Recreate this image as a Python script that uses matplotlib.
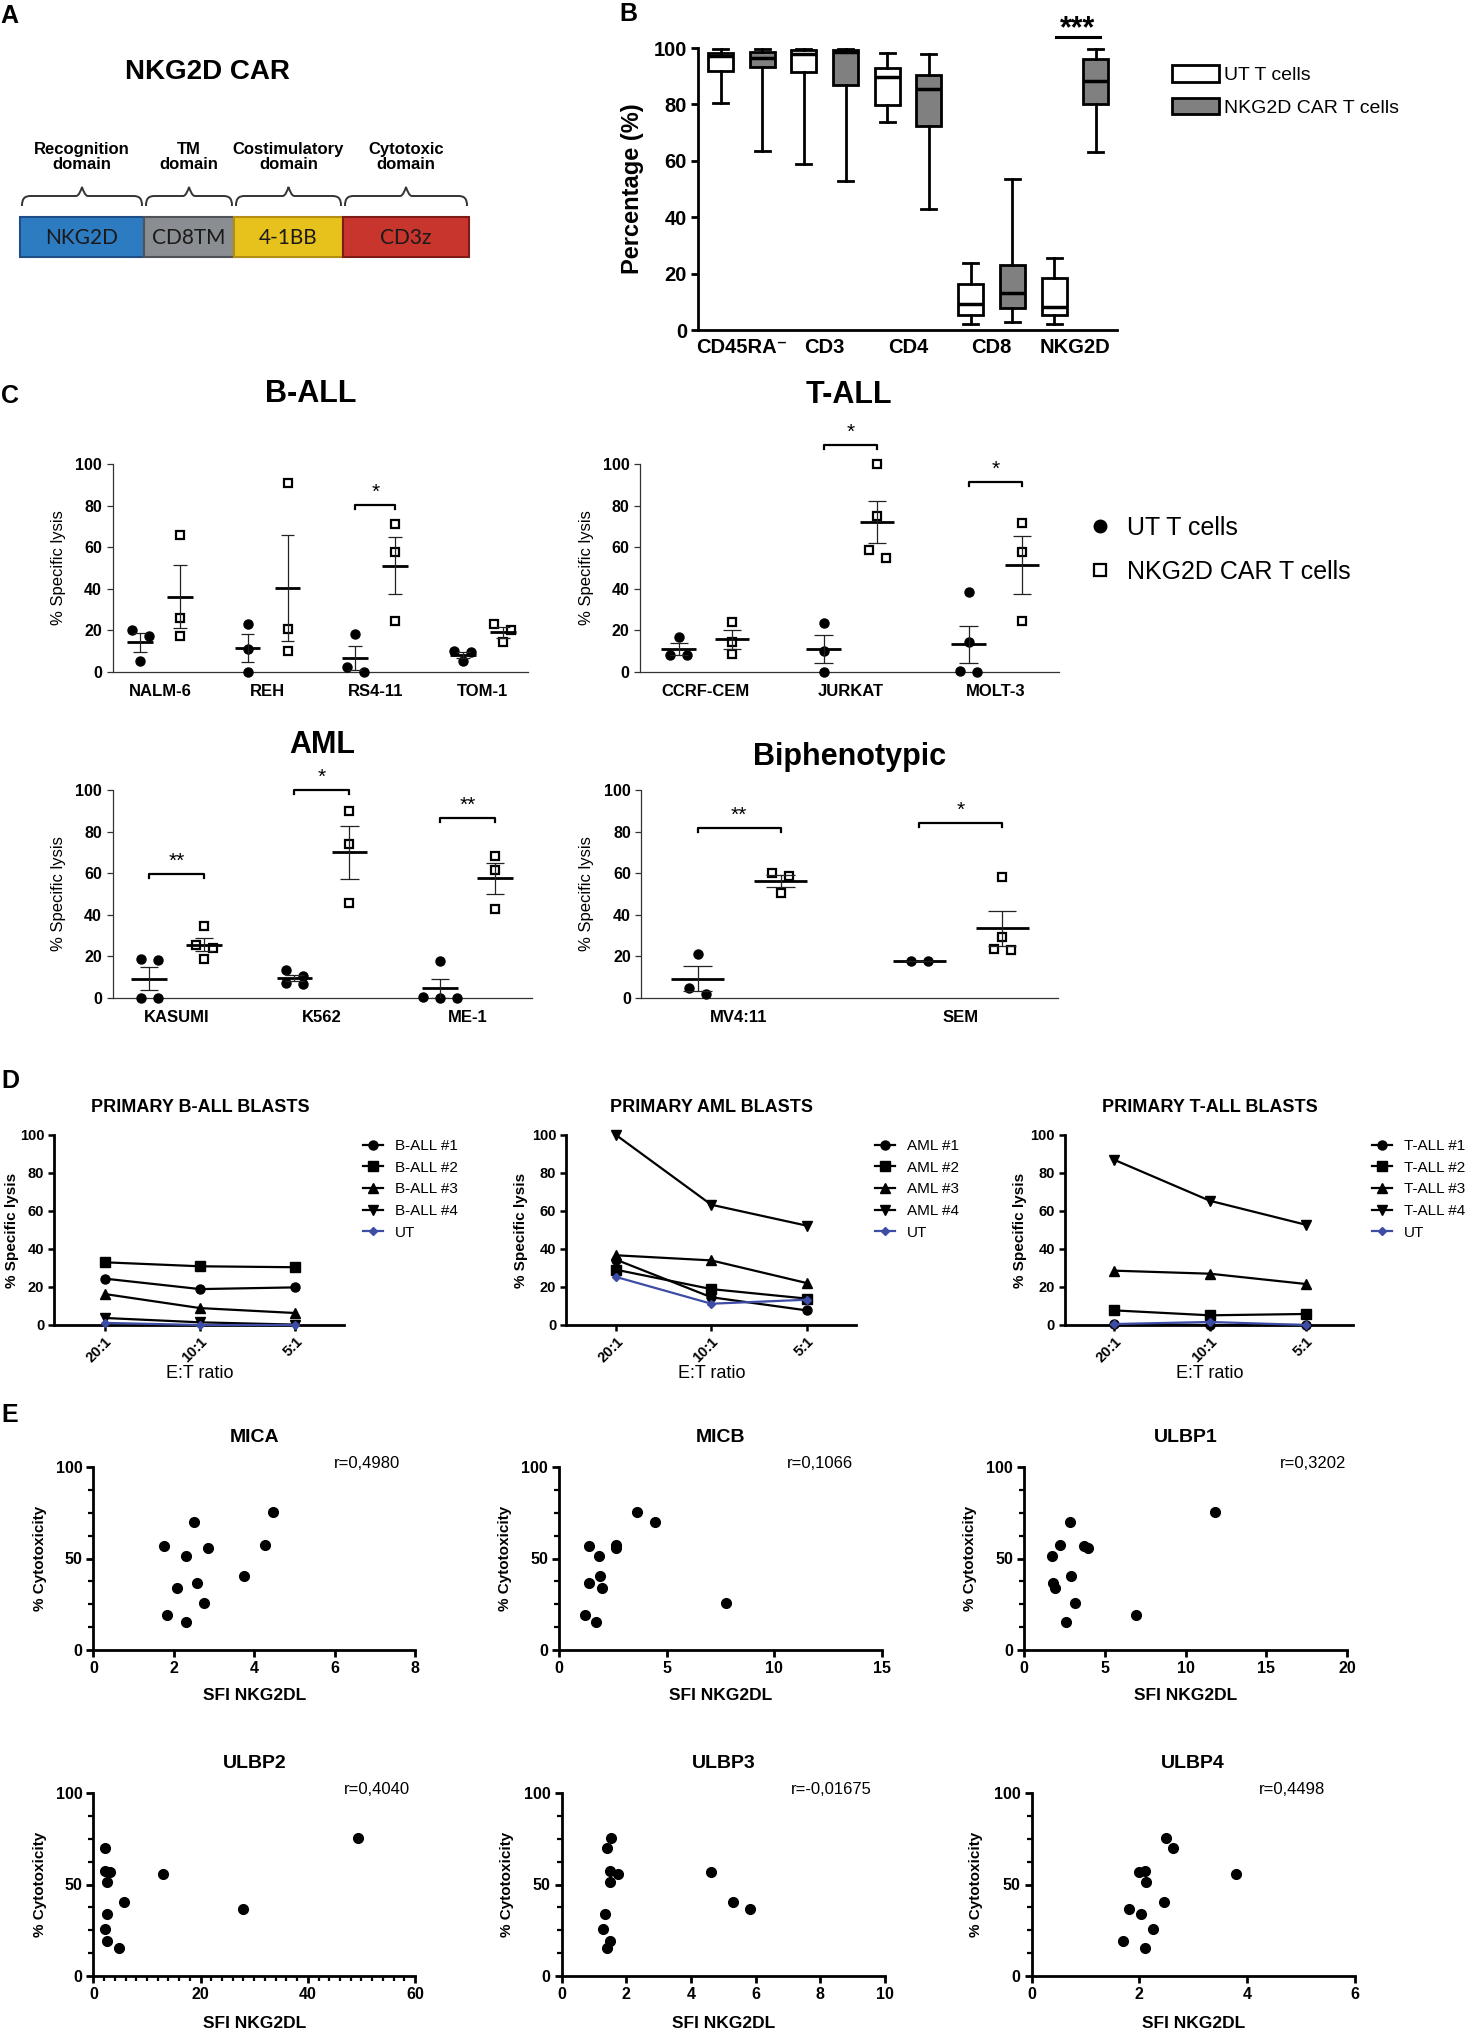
import numpy as np
from matplotlib import pyplot as plt
from matplotlib.lines import Line2D
from matplotlib.patches import Patch, Rectangle, PathPatch
from matplotlib.path import Path

W, H = 1467, 2029
plt.rcParams['font.family'] = ['Liberation Sans', 'DejaVu Sans']

# ---------------- data ----------------
# A. CAR construct
car_domains = ['NKG2D', 'CD8TM', '4-1BB', 'CD3z']
car_regions = ['Recognition\ndomain', 'TM\ndomain', 'Costimulatory\ndomain', 'Cytotoxic\ndomain']
car_lengths = [124, 90, 109, 126]
car_colors = ['#2D7CC2', '#8A8D91', '#E8C21C', '#C8352D']
car_edges = ['#1D4F86', '#505357', '#B38E12', '#7E1B16']

# B. phenotype boxes: whisker low, Q1, median, Q3, whisker high
pheno_markers = ['CD45RA⁻', 'CD3', 'CD4', 'CD8', 'NKG2D']
pheno_ut = [[80.5, 92.0, 97.0, 98.3, 99.8],
            [58.8, 91.5, 98.0, 99.2, 99.7],
            [73.8, 79.9, 89.7, 92.9, 98.2],
            [2.1, 5.3, 9.1, 16.3, 23.6],
            [2.1, 5.3, 8.0, 18.5, 25.7]]
pheno_car = [[63.5, 93.3, 96.5, 98.6, 99.8],
             [52.8, 86.8, 98.6, 99.2, 99.7],
             [42.9, 72.3, 85.6, 90.3, 97.8],
             [2.7, 7.7, 13.2, 23.0, 53.7],
             [63.2, 80.3, 88.2, 96.0, 99.8]]

# C. % specific lysis of cell lines (UT vs NKG2D CAR T cells)
ball_lines = ['NALM-6', 'REH', 'RS4-11', 'TOM-1']
ball_ut = [[20.4, 17.1, 5.1], [23.2, 11.1, 0.0], [18.3, 2.2, 0.0], [10.0, 9.4, 5.3]]
ball_car = [[65.7, 26.0, 17.1], [90.9, 20.7, 9.9], [71.2, 57.7, 24.7], [23.1, 20.0, 14.3]]
ball_sig = [(2, '*', 80.4)]

tall_lines = ['CCRF-CEM', 'JURKAT', 'MOLT-3']
tall_ut = [[16.6, 8.0, 8.0], [23.5, 9.9, 0.0], [38.4, 14.2, 0.6, 0.0]]
tall_car = [[24.0, 14.4, 8.8], [100.0, 75.0, 58.7, 55.0], [71.5, 57.9, 24.6]]
tall_sig = [(1, '*', 109.0), (2, '*', 91.5)]

aml_lines = ['KASUMI', 'K562', 'ME-1']
aml_ut = [[18.9, 18.4, 0.0, 0.0], [13.6, 10.7, 7.2, 6.7], [17.9, 0.6, 0.0, 0.0]]
aml_car = [[34.4, 25.6, 24.0, 18.7], [90.1, 73.9, 45.9], [68.3, 61.3, 42.9]]
aml_sig = [(0, '**', 59.7), (1, '*', 100.0), (2, '**', 86.4)]

biph_lines = ['MV4:11', 'SEM']
biph_ut = [[21.3, 4.8, 1.9], [18.0, 17.6]]
biph_car = [[60.0, 58.7, 50.7], [58.4, 29.1, 23.5, 23.2]]
biph_sig = [(0, '**', 81.6), (1, '*', 84.3)]

# D. primary blasts, lysis by E:T ratio
et_ratios = ['20:1', '10:1', '5:1']
pb_ball_names = ['B-ALL #1', 'B-ALL #2', 'B-ALL #3', 'B-ALL #4', 'UT']
pb_ball = [[24.4, 18.9, 19.8], [33.0, 30.9, 30.4], [16.3, 8.9, 6.3], [3.7, 1.4, 0.2], [1.1, 0.0, 0.0]]
pb_aml_names = ['AML #1', 'AML #2', 'AML #3', 'AML #4', 'UT']
pb_aml = [[34.4, 14.6, 7.7], [29.1, 18.9, 13.9], [36.7, 34.0, 22.1], [100.0, 63.3, 52.3], [25.3, 11.2, 13.3]]
pb_tall_names = ['T-ALL #1', 'T-ALL #2', 'T-ALL #3', 'T-ALL #4', 'UT']
pb_tall = [[0.5, 0.0, 0.0], [7.7, 5.1, 5.8], [28.6, 27.0, 21.6], [87.0, 65.4, 52.8], [0.5, 1.6, 0.0]]

# E. cytotoxicity vs ligand SFI (same 12 samples)
cyto = [75.5, 70.1, 57.6, 56.8, 55.6, 51.3, 40.5, 36.4, 33.8, 25.9, 19.0, 15.5]
sfi_mica = [4.48, 2.51, 4.27, 1.76, 2.84, 2.31, 3.74, 2.57, 2.08, 2.76, 1.82, 2.31]
sfi_micb = [3.62, 4.44, 2.65, 1.39, 2.65, 1.87, 1.90, 1.39, 1.98, 7.75, 1.21, 1.72]
sfi_ulbp1 = [11.82, 2.83, 2.25, 3.71, 3.99, 1.74, 2.90, 1.81, 1.92, 3.13, 6.95, 2.57]
sfi_ulbp2 = [49.4, 2.2, 2.1, 3.1, 12.9, 2.6, 5.7, 27.9, 2.5, 2.1, 2.6, 4.8]
sfi_ulbp3 = [1.53, 1.39, 1.49, 4.61, 1.75, 1.49, 5.29, 5.84, 1.34, 1.28, 1.49, 1.39]
sfi_ulbp4 = [2.50, 2.62, 2.11, 2.00, 3.80, 2.13, 2.45, 1.80, 2.04, 2.25, 1.69, 2.11]
corr_r = ['r=0,4980', 'r=0,1066', 'r=0,3202', 'r=0,4040', 'r=-0,01675', 'r=0,4498']

fig = plt.figure(figsize=(W / 100, H / 100), dpi=100)


def px_axes(x0, y0, x1, y1):
    # axes from a pixel box, origin top-left
    return fig.add_axes([x0 / W, 1 - y1 / H, (x1 - x0) / W, (y1 - y0) / H])


def ftext(x, y, s, **kw):
    kw.setdefault('ha', 'center')
    kw.setdefault('va', 'center')
    return fig.text(x / W, 1 - y / H, s, **kw)


def bold_ticks(ax, size):
    for lab in ax.get_xticklabels() + ax.get_yticklabels():
        lab.set_fontweight('bold')
        lab.set_fontsize(size)


# panel letters
for letter, (lx, ly) in zip('ABCDE', [(9, 16), (628, 14), (10, 396), (10, 1081), (10, 1415)]):
    ftext(lx, ly, letter, fontsize=18, fontweight='bold')

# ---------------- A ----------------
axA = px_axes(0, 120, 490, 280)
axA.set_xlim(0, 490)
axA.set_ylim(280, 120)
axA.axis('off')
ftext(207, 72, 'NKG2D CAR', fontsize=20, fontweight='bold')
left = 20
for name, region, length, fc, ec in zip(car_domains, car_regions, car_lengths, car_colors, car_edges):
    axA.add_patch(Rectangle((left, 217), length, 40, facecolor=fc, edgecolor=ec, lw=1.5))
    axA.text(left + length / 2, 238, name, ha='center', va='center', fontsize=15,
             family=['Lato', 'DejaVu Sans'], color='#1a1a1a')
    a, b = left + 2, left + length - 2
    m = (a + b) / 2
    verts = [(a, 206), (a, 198), (a + 3, 196), (a + 9, 196),
             (m - 6, 196),
             (m - 3, 196), (m - 1, 190), (m, 187),
             (m + 1, 190), (m + 3, 196), (m + 6, 196),
             (b - 9, 196),
             (b - 3, 196), (b, 198), (b, 206)]
    codes = [Path.MOVETO, Path.CURVE4, Path.CURVE4, Path.CURVE4,
             Path.LINETO,
             Path.CURVE4, Path.CURVE4, Path.CURVE4,
             Path.CURVE4, Path.CURVE4, Path.CURVE4,
             Path.LINETO,
             Path.CURVE4, Path.CURVE4, Path.CURVE4]
    axA.add_patch(PathPatch(Path(verts, codes), fill=False, lw=1.4, edgecolor='#333333'))
    axA.text(m, 157, region, ha='center', va='center', fontsize=12, fontweight='bold',
             linespacing=0.95)
    left += length

# ---------------- B ----------------
axB = px_axes(698, 48, 1117, 330)
stats, pos = [], []
for i in range(len(pheno_markers)):
    for j, s in enumerate((pheno_ut[i], pheno_car[i])):
        stats.append(dict(whislo=s[0], q1=s[1], med=s[2], q3=s[3], whishi=s[4], fliers=[]))
        pos.append(2 * i + j)
bp = axB.bxp(stats, positions=pos, widths=0.6, capwidths=0.36, patch_artist=True,
             showfliers=False,
             boxprops=dict(linewidth=2, edgecolor='black'),
             medianprops=dict(color='black', linewidth=2.5),
             whiskerprops=dict(linewidth=2, color='black'),
             capprops=dict(linewidth=2, color='black'))
for k, box in enumerate(bp['boxes']):
    box.set_facecolor('white' if k % 2 == 0 else '#808080')
axB.set_xlim(-0.54, 9.51)
axB.set_ylim(0, 100)
axB.set_yticks(range(0, 101, 20))
axB.set_xticks([2 * i + 0.5 for i in range(len(pheno_markers))])
axB.set_xticklabels(pheno_markers)
for sp in ('top', 'right'):
    axB.spines[sp].set_visible(False)
for sp in ('left', 'bottom'):
    axB.spines[sp].set_linewidth(2)
axB.tick_params(axis='y', length=5, width=2, pad=3)
axB.tick_params(axis='x', length=0, pad=6)
bold_ticks(axB, 14.5)
axB.plot([8.05, 9.1], [104, 104], color='black', lw=2.2, clip_on=False)
axB.text(8.57, 101.5, '***', ha='center', va='bottom', fontsize=22, fontweight='bold')
ftext(633, 189, 'Percentage (%)', rotation=90, fontsize=17, fontweight='bold')
fig.legend([Patch(facecolor='white', edgecolor='black', lw=2),
            Patch(facecolor='#808080', edgecolor='black', lw=2)],
           ['UT T cells', 'NKG2D CAR T cells'],
           loc='upper left', bbox_to_anchor=(1172 / W, 1 - 65 / H), frameon=False,
           fontsize=14, handlelength=2.4, handleheight=0.95, labelspacing=0.7,
           handletextpad=0.3, borderpad=0, borderaxespad=0)


# ---------------- C ----------------
def swarm(vals, unit_px, row_px=9, step_px=17):
    # points that share a row are spread sideways around the column centre
    order = sorted(range(len(vals)), key=lambda i: -vals[i])
    rows = []
    for i in order:
        if rows and (vals[rows[-1][0]] - vals[i]) * 2.08 < row_px:
            rows[-1].append(i)
        else:
            rows.append([i])
    offs = [0.0] * len(vals)
    for row in rows:
        for k, i in enumerate(row):
            offs[i] = (k - (len(row) - 1) / 2) * step_px / unit_px
    return offs


def lysis_panel(rect, unit, ut0, gap, lines, ut, car, sigs, title, title_y, ylab_x):
    x0, y0, x1, y1 = rect
    ax = px_axes(*rect)
    ax.set_xlim((x0 - ut0) / unit, (x1 - ut0) / unit)
    ax.set_ylim(0, 100)
    for g, (u, c) in enumerate(zip(ut, car)):
        for j, vals in enumerate((u, c)):
            xc = g * gap + j
            offs = swarm(vals, unit)
            if j == 0:
                ax.plot(xc + np.array(offs), vals, ls='none', marker='o', ms=6.5,
                        color='black', clip_on=False, zorder=3)
            else:
                ax.plot(xc + np.array(offs), vals, ls='none', marker='s', ms=6,
                        mfc='white', mec='black', mew=1.6, clip_on=False, zorder=3)
            mean = np.mean(vals)
            sem = np.std(vals, ddof=1) / np.sqrt(len(vals))
            ax.hlines(mean, xc - 0.32, xc + 0.32, color='black', lw=2, zorder=4)
            ax.vlines(xc, mean - sem, mean + sem, color='#222222', lw=0.9, zorder=4)
            ax.hlines([mean - sem, mean + sem], xc - 0.17, xc + 0.17, color='#222222',
                      lw=0.9, zorder=4)
    for g, stars, yb in sigs:
        a, b = g * gap, g * gap + 1
        ax.plot([a, a, b, b], [yb - 2, yb, yb, yb - 2], color='black', lw=1.6,
                clip_on=False)
        ax.text((a + b) / 2, yb + 1.5, stars, ha='center', va='bottom', fontsize=15,
                clip_on=False)
    ax.set_xticks([g * gap + 0.5 for g in range(len(lines))])
    ax.set_xticklabels(lines)
    ax.set_yticks(range(0, 101, 20))
    for sp in ('top', 'right'):
        ax.spines[sp].set_visible(False)
    for sp in ('left', 'bottom'):
        ax.spines[sp].set_linewidth(0.9)
        ax.spines[sp].set_color('#333333')
    ax.tick_params(axis='y', length=4.5, width=0.9, pad=3, color='#333333')
    ax.tick_params(axis='x', length=0, pad=9)
    bold_ticks(ax, 11.5)
    for lab in ax.get_xticklabels():
        lab.set_fontsize(12)
    ftext((x0 + x1) / 2 if title != 'B-ALL' else 311, title_y, title, fontsize=22,
          fontweight='bold')
    ftext(ylab_x, (y0 + y1) / 2, '% Specific lysis', rotation=90, fontsize=12)
    return ax


lysis_panel((112.5, 464, 528, 672), 40, 140, 2.69, ball_lines, ball_ut, ball_car,
            ball_sig, 'B-ALL', 394, 58)
lysis_panel((640, 464, 1058.6, 672), 53.5, 678.6, 2.71, tall_lines, tall_ut, tall_car,
            tall_sig, 'T-ALL', 395, 587)
lysis_panel((112.5, 790, 532, 998), 55, 149, 2.645, aml_lines, aml_ut, aml_car,
            aml_sig, 'AML', 745, 58)
lysis_panel((641.4, 790, 1058, 998), 83, 697.5, 2.67, biph_lines, biph_ut, biph_car,
            biph_sig, 'Biphenotypic', 757, 586)

fig.legend([Line2D([], [], ls='none', marker='o', ms=9, color='black'),
            Line2D([], [], ls='none', marker='s', ms=9, mfc='white', mec='black', mew=1.6)],
           ['UT T cells', 'NKG2D CAR T cells'],
           loc='upper left', bbox_to_anchor=(1087 / W, 1 - 516 / H), frameon=False,
           fontsize=18, handlelength=1.0, labelspacing=0.8, handletextpad=0.6,
           borderpad=0, borderaxespad=0)

# ---------------- D ----------------
pb_markers = ['o', 's', '^', 'v', 'D']


def primary_panel(rect, x0px, step, names, vals, title, leg_x, ylab_x):
    x0, y0, x1, y1 = rect
    ax = px_axes(*rect)
    ax.set_xlim((x0 - x0px) / step, (x1 - x0px) / step)
    ax.set_ylim(0, 100)
    xs = np.arange(len(et_ratios))
    for name, v, mk in zip(names, vals, pb_markers):
        if name == 'UT':
            ax.plot(xs, v, marker=mk, color='#3D4DA6', lw=1.6, ms=4, label=name,
                    clip_on=False, zorder=4)
        else:
            ax.plot(xs, v, marker=mk, color='black', lw=1.6, ms=6.5, label=name,
                    clip_on=False, zorder=3)
    ax.set_xticks(xs)
    ax.set_xticklabels(et_ratios, rotation=45, ha='right', rotation_mode='anchor')
    ax.set_yticks(range(0, 101, 20))
    for sp in ('top', 'right'):
        ax.spines[sp].set_visible(False)
    for sp in ('left', 'bottom'):
        ax.spines[sp].set_linewidth(2)
    ax.tick_params(axis='both', length=4, width=1.8, pad=3)
    bold_ticks(ax, 10.5)
    mid = x0px + step
    ftext(mid, 1107, title, fontsize=13, fontweight='bold')
    ftext(mid, 1374, 'E:T ratio', fontsize=13)
    ftext(ylab_x, (y0 + y1) / 2, '% Specific lysis', rotation=90, fontsize=11,
          fontweight='bold')
    ax.legend(loc='upper left', bbox_to_anchor=(leg_x / W, 1 - 1139 / H),
              bbox_transform=fig.transFigure, frameon=False, fontsize=11,
              handlelength=1.3, labelspacing=0.5, handletextpad=0.8,
              borderpad=0, borderaxespad=0)
    return ax


primary_panel((54, 1135, 343.5, 1325), 104.8, 95.3, pb_ball_names, pb_ball,
              'PRIMARY B-ALL BLASTS', 363, 12)
primary_panel((566, 1135, 855.6, 1325), 616, 95.3, pb_aml_names, pb_aml,
              'PRIMARY AML BLASTS', 875, 521)
primary_panel((1064.5, 1135, 1353, 1325), 1114, 95.8, pb_tall_names, pb_tall,
              'PRIMARY T-ALL BLASTS', 1372, 1020)


# ---------------- E ----------------
def corr_panel(rect, sfi, xmax, xstep, title, rtext, r_fx, ylab_x, xlab_y, xminor=None):
    x0, y0, x1, y1 = rect
    ax = px_axes(*rect)
    ax.plot(sfi, cyto, ls='none', marker='o', ms=7, color='black', clip_on=False)
    ax.set_xlim(0, xmax)
    ax.set_ylim(0, 100)
    ax.set_xticks(np.arange(0, xmax + 0.01, xstep))
    ax.set_yticks([0, 50, 100])
    ax.set_yticks(np.arange(0, 100.1, 12.5), minor=True)
    if xminor:
        ax.set_xticks(np.arange(0, xmax + 0.01, xminor), minor=True)
    for sp in ('top', 'right'):
        ax.spines[sp].set_visible(False)
    for sp in ('left', 'bottom'):
        ax.spines[sp].set_linewidth(2)
    ax.tick_params(which='major', length=5, width=2, pad=3)
    ax.tick_params(which='minor', length=3.5, width=1.6)
    bold_ticks(ax, 11.5)
    ax.text(r_fx, 1.02, rtext, transform=ax.transAxes, ha='right', va='center',
            fontsize=12)
    ftext((x0 + x1) / 2, y0 - 30, title, fontsize=14, fontweight='bold')
    ftext((x0 + x1) / 2, xlab_y, 'SFI NKG2DL', fontsize=12.5, fontweight='bold')
    ftext(ylab_x, (y0 + y1) / 2, '% Cytotoxicity', rotation=90, fontsize=11,
          fontweight='bold')
    return ax


corr_panel((93.4, 1467, 415, 1650), sfi_mica, 8, 2, 'MICA', corr_r[0], 0.953, 40, 1695)
corr_panel((559, 1467, 882, 1650), sfi_micb, 15, 5, 'MICB', corr_r[1], 0.91, 505, 1695)
corr_panel((1024, 1467, 1347, 1650), sfi_ulbp1, 20, 5, 'ULBP1', corr_r[2], 0.997, 970, 1695)
corr_panel((93.4, 1793, 415, 1976), sfi_ulbp2, 60, 20, 'ULBP2', corr_r[3], 0.986, 40, 2023,
           xminor=2)
corr_panel((561.6, 1793, 885, 1976), sfi_ulbp3, 10, 2, 'ULBP3', corr_r[4], 0.96, 507, 2023)
corr_panel((1031.7, 1793, 1354.6, 1976), sfi_ulbp4, 6, 2, 'ULBP4', corr_r[5], 0.908, 976,
           2023)

fig.savefig('out.png', dpi=100, facecolor='white')
